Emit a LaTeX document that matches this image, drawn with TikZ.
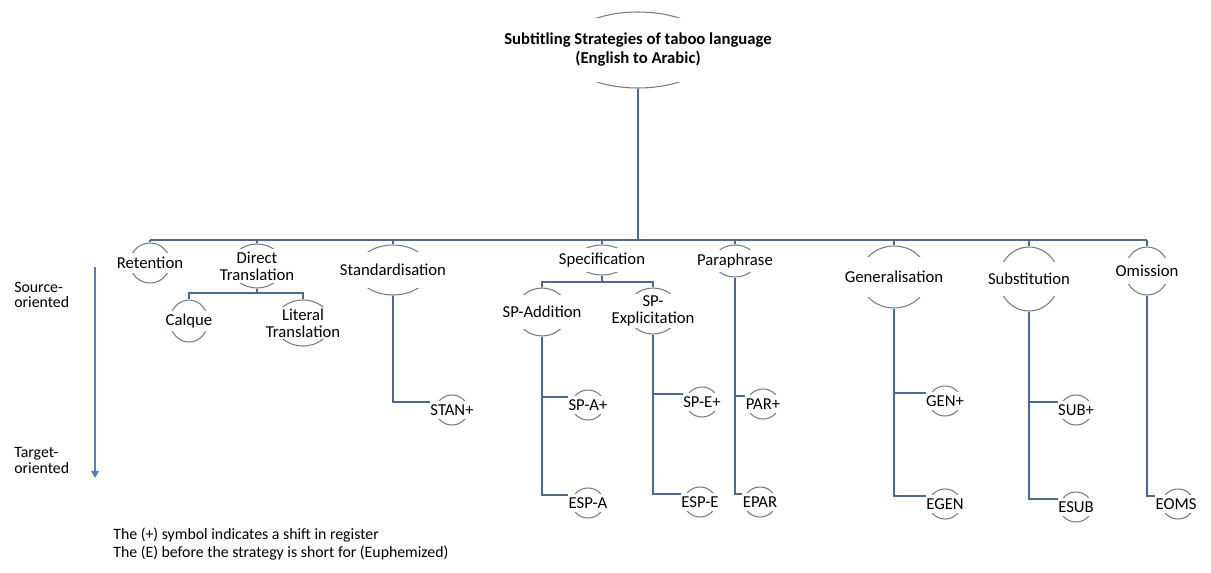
\documentclass[tikz,border=0pt]{standalone}
\usepackage{fontspec}
\setmainfont{Carlito}
\usetikzlibrary{positioning,arrows.meta,shapes.geometric}
\pgfdeclarelayer{bg}
\pgfsetlayers{bg,main}
\definecolor{linkblue}{RGB}{76,106,145}
\definecolor{ringgray}{RGB}{112,124,142}
\definecolor{axisblue}{RGB}{84,128,186}
\tikzset{ring/.style={draw=ringgray,ellipse,line width=.6pt,inner sep=0pt},
lbl/.style={fill=white,inner sep=0pt,align=center,font=\fontsize{9.5}{9.8}\selectfont},
link/.style={draw=linkblue,line width=.7pt},
note/.style={anchor=west,inner sep=0pt,align=left,font=\fontsize{9}{8.6}\selectfont}}

\begin{document}
\begin{tikzpicture}[x=0.02cm,y=-0.02cm]
		\useasboundingbox (0,0) rectangle (1211,572);
		\node[ring,minimum width=3.04cm,minimum height=1.52cm] (root) at (638,50) {};
		\node[lbl,minimum height=1.28cm,font=\fontsize{9.5}{10.8}\selectfont\bfseries] (root-t) at (root) {Subtitling Strategies of taboo language\\(English to Arabic)};
		\foreach \nm/\x/\y/\rx/\ry/\h/\txt in {
				ret/150/263/20/20/10/Retention,
				dt/257/266/26/22/17/{Direct\\Translation},
				calq/189/321/19/21/10/Calque,
				lit/303/323/28/23/16/{Literal\\Translation},
				stand/393/270/36/25/18/Standardisation,
				spec/602/260/25/15/12/Specification,
				spa/542/312/26/24/17/SP-Addition,
				spe/653/311/26/23/17/{SP-\\Explicitation},
				para/735/261/21/16/11/Paraphrase,
				gen/894/277/34/31/20/Generalisation,
				sub/1029/279/30/32/17/Substitution,
				omi/1147/271/22/24/13/Omission,
				stanp/452/410/16/15/9/STAN+,
				spap/588/405/16/15/9/SP-A+,
				espa/588/503/16/15/9/ESP-A,
				spep/702/402/16/15/9/SP-E+,
				espe/700/502/16/15/9/ESP-E,
				parp/763/404/16/15/9/PAR+,
				epar/760/502/16/15/9/EPAR,
				genp/945/401/16/15/9/GEN+,
				egen/945/504/16/15/9/EGEN,
				subp/1076/410/16/15/9/SUB+,
				esub/1076/507/16/15/9/ESUB,
				eoms/1178/504/16/15/9/EOMS
			}
		{
			\node[ring,minimum width=2*\rx*0.02cm,minimum height=2*\ry*0.02cm] (\nm) at (\x,\y) {};
			\node[lbl,minimum width=2*\rx*0.02cm+2pt,minimum height=2*\h*0.02cm] (\nm-t) at (\nm) {\txt};
		}
		\coordinate (bar) at (638,240);
		\coordinate (dtbar) at (257,293);
		\coordinate (specbar) at (602,282);
		\begin{pgfonlayer}{bg}
			\draw[link] (root.south) -- (bar);
			\draw[link] (ret.north |- bar) -- (omi.north |- bar);
			\foreach \nm in {ret,dt,stand,spec,para,gen,sub,omi}
			\draw[link] (\nm.north |- bar) -- (\nm.north);
			\draw[link] (dt.south) -- (dtbar);
			\draw[link] (calq.north) |- (dtbar) -| (lit.north);
			\draw[link] (spec.south) -- (specbar);
			\draw[link] (spa.north) |- (specbar) -| (spe.north);
			\foreach \a/\b in {stand/stanp,spa/spap,spa/espa,spe/spep,spe/espe,para/parp,para/epar,gen/genp,gen/egen,sub/subp,sub/esub,omi/eoms}
			\draw[link] (\a.south) |- ([yshift=4.5pt]\b-t.west);
		\end{pgfonlayer}
		\coordinate (ax1) at (95,267);
		\coordinate (ax2) at (95,478);
		\draw[draw=axisblue,line width=.7pt,-{Triangle[width=4.5pt,length=4pt]}] (ax1) -- (ax2);
		\node[note] (src) at (14,294.5) {Source-\\oriented};
		\node[note] (tgt) at (14,460.5) {Target-\\oriented};
		\node[note] (n1) at (113,535) {The (+) symbol indicates a shift in register};
		\node[note] (n2) at (113,553) {The (E) before the strategy is short for (Euphemized)};
	\end{tikzpicture}
\end{document}
